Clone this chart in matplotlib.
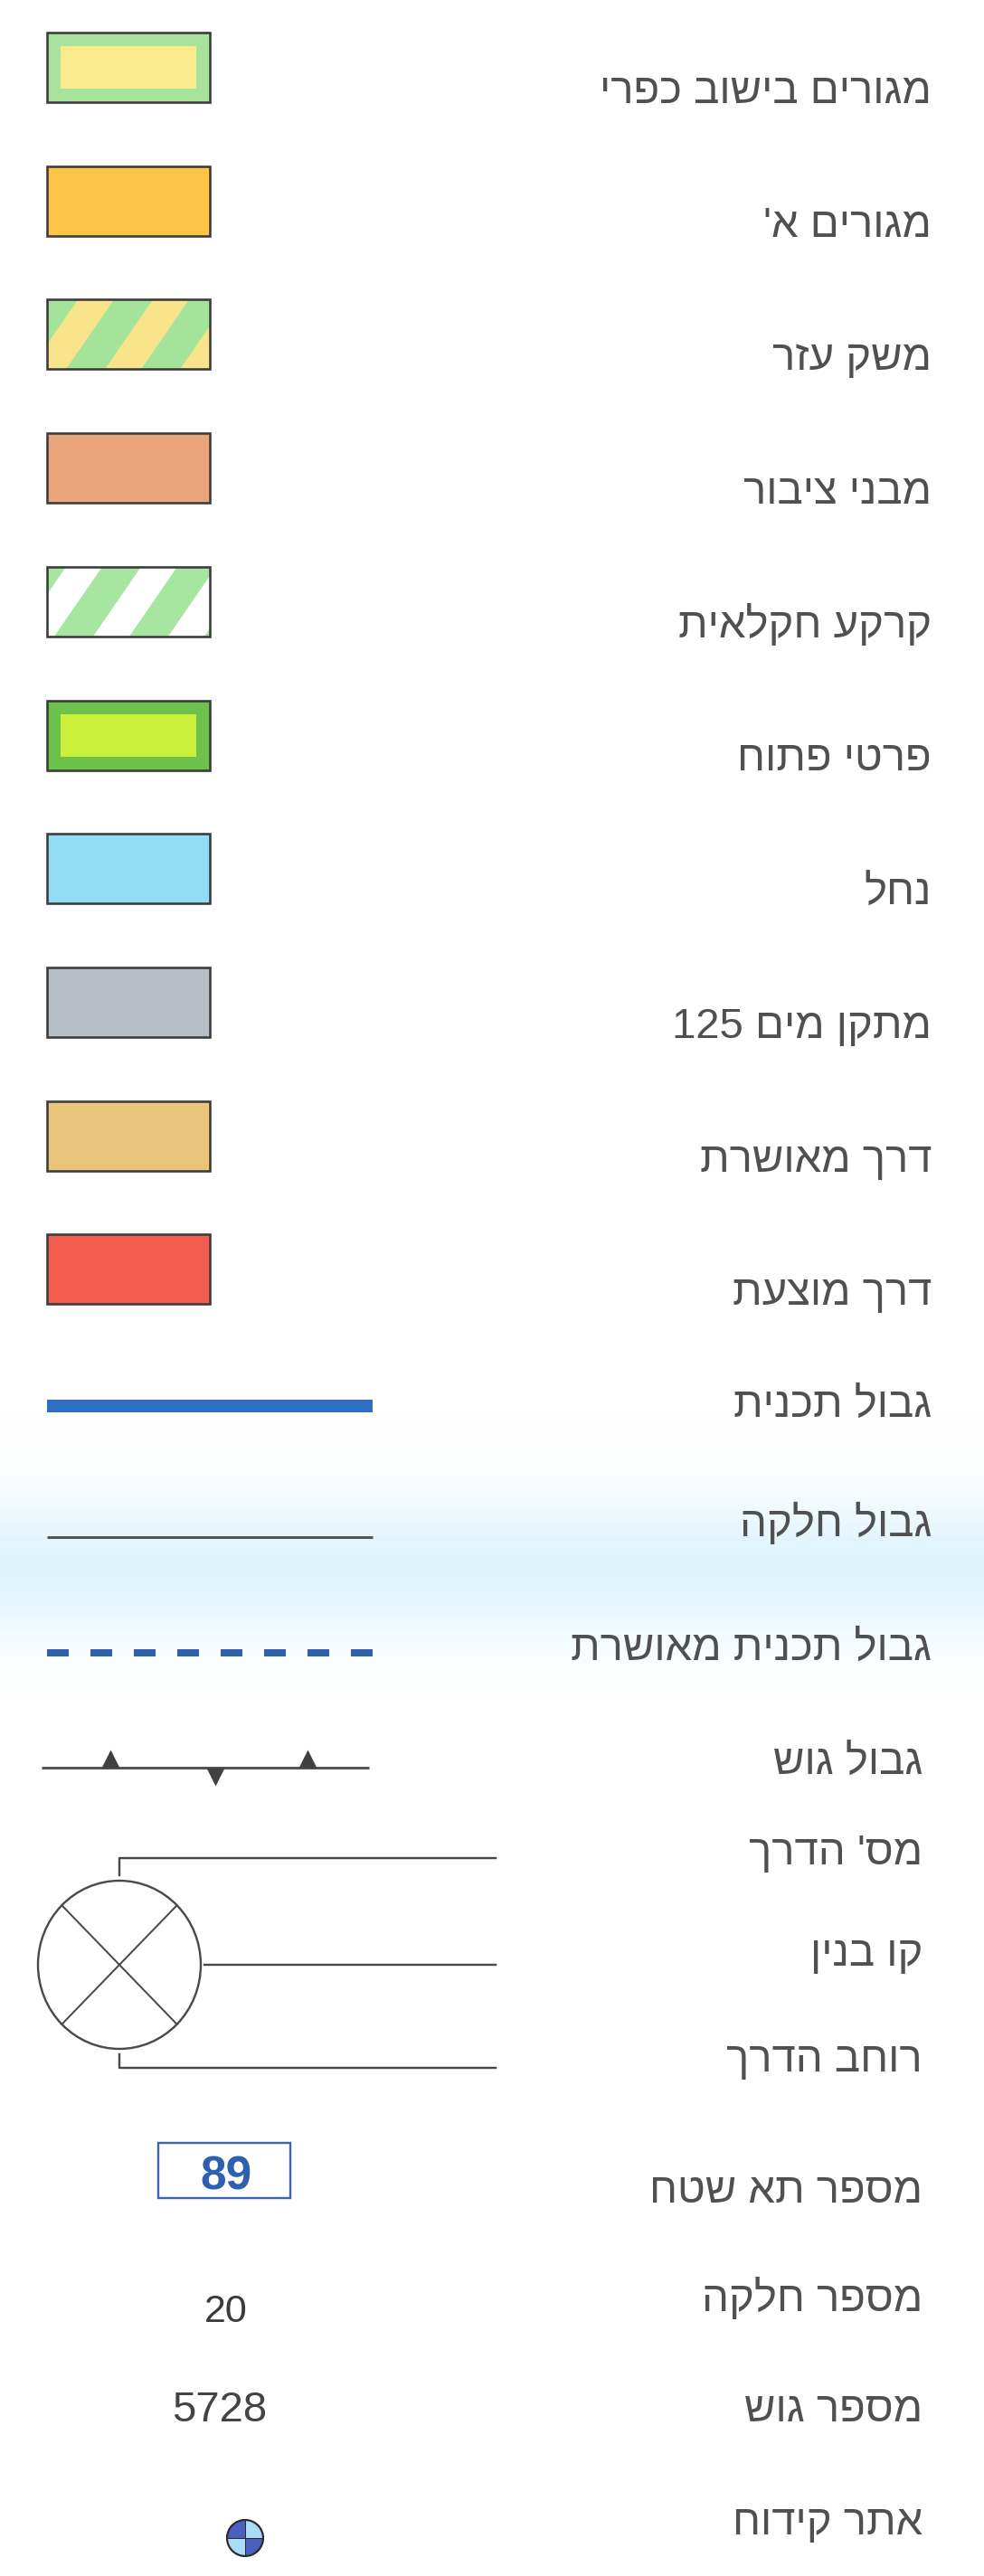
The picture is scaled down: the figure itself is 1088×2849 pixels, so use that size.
import matplotlib
matplotlib.use("Agg")
import matplotlib.pyplot as plt
from matplotlib.patches import Rectangle, Polygon, Ellipse, Wedge
import numpy as np

plt.rcParams['font.family'] = ['Liberation Sans Narrow', 'Liberation Sans', 'DejaVu Sans']

# rows with a coloured box
box_labels = ['מגורים בישוב כפרי', "מגורים א'", 'משק עזר', 'מבני ציבור', 'קרקע חקלאית',
              'פרטי פתוח', 'נחל', 'מתקן מים 125', 'דרך מאושרת', 'דרך מוצעת']
box_fill = ['#a7e39b', '#fcc548', '#f9e48c', '#eaa67a', '#ffffff',
            '#6cc24a', '#92dcf6', '#b8bec6', '#e9c57c', '#f25c4c']
box_inner = ['#f9ea8e', None, None, None, None, '#cdf03c', None, None, None, None]
box_stripe = [None, None, '#a4e39a', None, '#a6e6a0', None, None, None, None, None]

# line symbols
line_labels = ['גבול תכנית', 'גבול חלקה', 'גבול תכנית מאושרת', 'גבול גוש']

# road symbol
road_labels = ["מס' הדרך", 'קו בנין', 'רוחב הדרך']

# numbers
number_labels = ['מספר תא שטח', 'מספר חלקה', 'מספר גוש']
number_values = ['89', '20', '5728']

drill_label = 'אתר קידוח'


def rtl(s):
    # matplotlib has no bidi, so lay the words out in visual order
    out = []
    for w in reversed(s.split(' ')):
        out.append(w if w.isdigit() else w[::-1])
    return ' '.join(out)


W, H = 1088, 2849
fig = plt.figure(figsize=(W / 100, H / 100), dpi=100)
ax = fig.add_axes([0, 0, 1, 1])

# faint blue smear of the scan
ys = np.arange(1560, 1880)
alpha = np.exp(-((ys - 1735) / 75.0) ** 2)
img = np.zeros((len(ys), 1, 4))
img[..., 0], img[..., 1], img[..., 2] = 0.85, 0.95, 0.99
img[:, 0, 3] = alpha * 0.85
ax.imshow(img, extent=[0, W, ys[-1], ys[0]], aspect='auto', zorder=0)

px = 72 / 100  # points per pixel
txt_kw = dict(fontsize=34, color='#505050', ha='right', va='baseline')
edge = '#3c3c3c'

# ---- coloured boxes
bx, bw, bh = 52, 180, 77
for i, lab in enumerate(box_labels):
    top = 36 + i * 147.7
    rect = Rectangle((bx, top), bw, bh, facecolor=box_fill[i], edgecolor='none', zorder=1)
    ax.add_patch(rect)
    if box_inner[i]:
        ax.add_patch(Rectangle((bx + 15, top + 15), bw - 30, bh - 30,
                               facecolor=box_inner[i], edgecolor='none', zorder=2))
    if box_stripe[i]:
        start = 21 if i == 2 else 8
        for k in range(-2, 4):
            x0 = bx + start + k * 83
            poly = Polygon([(x0, top + bh), (x0 + 43, top + bh), (x0 + 43 + 53, top), (x0 + 53, top)],
                           closed=True, facecolor=box_stripe[i], edgecolor='none', zorder=2)
            ax.add_patch(poly)
            poly.set_clip_path(rect)
    ax.add_patch(Rectangle((bx, top), bw, bh, facecolor='none', edgecolor=edge,
                           lw=2.6 * px, zorder=3))
    ax.text(1030, top + bh + 1, rtl(lab), **txt_kw)

# ---- line symbols
ax.plot([52, 412], [1555, 1555], color='#2f6ec2', lw=14 * px, solid_capstyle='butt')
ax.text(1030, 1567, rtl(line_labels[0]), **txt_kw)

ax.plot([52, 412], [1700, 1700], color='#555555', lw=3 * px, solid_capstyle='butt')
ax.text(1030, 1699, rtl(line_labels[1]), **txt_kw)

ax.plot([52, 412], [1828, 1828], color='#2f5fa8', lw=8 * px, linestyle=(0, (3.0, 3.0)),
        dash_capstyle='butt')
ax.text(1030, 1836, rtl(line_labels[2]), **txt_kw)

ax.plot([46, 408], [1955, 1955], color='#555555', lw=3 * px, solid_capstyle='butt')
ax.plot([122, 340], [1945, 1945], linestyle='none', marker='^', ms=20 * px,
        color='#404040', mec='none')
ax.plot([238], [1965], linestyle='none', marker='v', ms=20 * px, color='#404040', mec='none')

txt_kw2 = dict(txt_kw)
txt_kw2['x'] = 1020
ax.text(s=rtl(line_labels[3]), y=1962, **txt_kw2)

# ---- road symbol
cx, cy, rx, ry = 132, 2173, 90, 93
road_col = '#4a4a4a'
ax.add_patch(Ellipse((cx, cy), 2 * rx, 2 * ry, facecolor='none', edgecolor=road_col, lw=2.4 * px))
dx, dy = rx * np.cos(np.pi / 4), ry * np.sin(np.pi / 4)
ax.plot([cx - dx, cx + dx], [cy - dy, cy + dy], color=road_col, lw=2 * px)
ax.plot([cx - dx, cx + dx], [cy + dy, cy - dy], color=road_col, lw=2 * px)
ax.plot([cx, cx, 548], [cy - ry - 6, 2055, 2055], color=road_col, lw=2.4 * px)
ax.plot([cx + rx + 4, 548], [cy, cy], color=road_col, lw=2.4 * px)
ax.plot([cx, cx, 548], [cy + ry + 6, 2287, 2287], color=road_col, lw=2.4 * px)
for lab, yb in zip(road_labels, [2062, 2174, 2291]):
    ax.text(s=rtl(lab), y=yb, **txt_kw2)

# ---- numbers
ax.add_patch(Rectangle((175, 2370), 146, 61, facecolor='none', edgecolor='#3a66ad', lw=2.4 * px))
ax.text(250, 2422, number_values[0], fontsize=37, fontweight='bold', color='#2f5fb0',
        ha='center', va='baseline', family=['Liberation Sans', 'DejaVu Sans'])
ax.text(250, 2568, number_values[1], fontsize=31, color='#3a3a3a',
        ha='center', va='baseline', family=['Liberation Sans', 'DejaVu Sans'])
ax.text(243, 2678, number_values[2], fontsize=34, color='#444444',
        ha='center', va='baseline', family=['Liberation Sans', 'DejaVu Sans'])
for lab, yb in zip(number_labels, [2436, 2556, 2678]):
    ax.text(s=rtl(lab), y=yb, **txt_kw2)

# ---- drilling site
dcx, dcy, dr = 271, 2807, 20
for t1, col in [(0, '#4a5fc0'), (90, '#a8dcf5'), (180, '#4a5fc0'), (270, '#a8dcf5')]:
    ax.add_patch(Wedge((dcx, dcy), dr, t1, t1 + 90, facecolor=col, edgecolor='none'))
ax.plot([dcx - dr, dcx + dr], [dcy, dcy], color='#2a2a2a', lw=1 * px)
ax.plot([dcx, dcx], [dcy - dr, dcy + dr], color='#2a2a2a', lw=1 * px)
ax.add_patch(Ellipse((dcx, dcy), 2 * dr, 2 * dr, facecolor='none', edgecolor='#2a2a2a', lw=2.2 * px))
ax.text(s=rtl(drill_label), y=2803, **txt_kw2)

ax.set_xlim(0, W)
ax.set_ylim(H, 0)
ax.axis('off')
fig.savefig('out.png', dpi=100, facecolor='white')
